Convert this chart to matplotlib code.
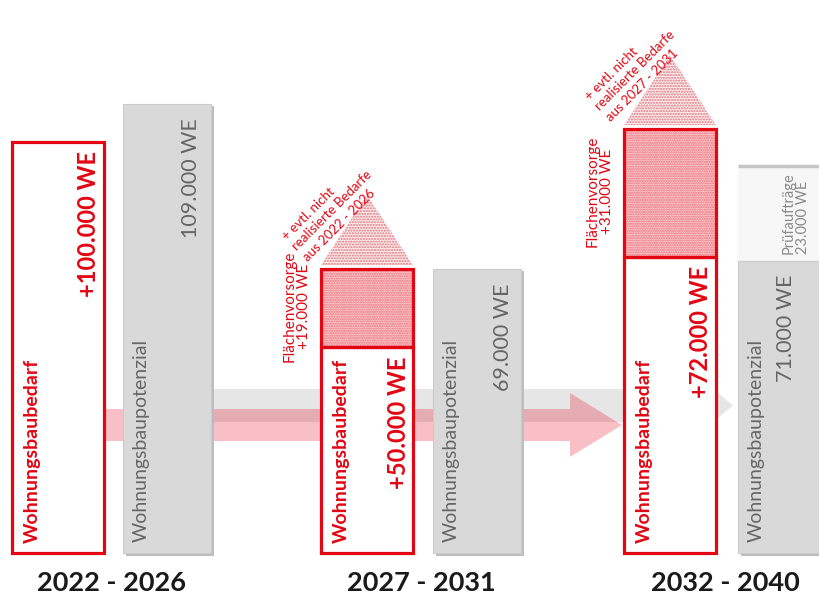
import matplotlib
matplotlib.use("Agg")
import matplotlib.pyplot as plt
from matplotlib.patches import Rectangle, Polygon, FancyArrow

# ---------------- data (Tsd. WE) ----------------
periods = ["2022 - 2026", "2027 - 2031", "2032 - 2040"]
bedarf = [100, 50, 72]          # Wohnungsbaubedarf
vorsorge = [0, 19, 31]          # Flächenvorsorge
potenzial = [109, 69, 71]       # Wohnungsbaupotenzial
pruef = [0, 0, 23]              # Prüfaufträge
bedarf_labels = ["+100.000 WE", "+50.000 WE", "+72.000 WE"]
vorsorge_labels = ["", "+19.000 WE", "+31.000 WE"]
potenzial_labels = ["109.000 WE", "69.000 WE", "71.000 WE"]
pruef_labels = ["", "", "23.000 WE"]
note_labels = ["",
               "+ evtl. nicht\nrealisierte Bedarfe\naus 2022 - 2026",
               "+ evtl. nicht\nrealisierte Bedarfe\naus 2027 - 2031"]

# ---------------- layout / style ----------------
plt.rcParams['font.family'] = ['Lato', 'DejaVu Sans']
W, H = 819, 604
PX = 4.115          # pixels per 1000 WE
BASE = 553          # baseline pixel row
RED = '#e30613'
GRAYTXT = '#666666'

red_left = [12, 321, 624]
red_w = 92
gray_left = [123, 433, 738]
gray_w = 88
val_off = [68, 70, 48]

fig = plt.figure(figsize=(W / 100, H / 100), dpi=100)
ax = fig.add_axes([0, 0, 1, 1])
ax.set_xlim(0, W)
ax.set_ylim(-(H - BASE) / PX, BASE / PX)
ax.axis('off')


def py(p):
    return p / PX


# background arrows
gx0 = gray_left[0] + gray_w / 2
gtip = red_left[2] + red_w + 17
ax.add_patch(FancyArrow(gx0, py(BASE - 405.5), gtip - gx0, 0, width=py(33),
                        head_width=py(50), head_length=30,
                        length_includes_head=True, color='#e6e6e6', lw=0, zorder=1))
px0 = red_left[0] + red_w / 2
ptip = red_left[2] - 2
ax.add_patch(FancyArrow(px0, py(BASE - 425), ptip - px0, 0, width=py(32),
                        head_width=py(64), head_length=52,
                        length_includes_head=True, color=(0.91, 0.0, 0.11, 0.25),
                        lw=0, zorder=2))

for i in range(3):
    rl, gl = red_left[i], gray_left[i]

    # gray potential bars with soft shadow
    ax.add_patch(Rectangle((gl + 3, -py(2.5)), gray_w, potenzial[i] + py(1),
                           fc='#bdbdbd', lw=0, zorder=3))
    ax.add_patch(Rectangle((gl, 0), gray_w, potenzial[i],
                           fc='#d9d9d9', ec='#cbcbcb', lw=0.8, zorder=4))
    ax.text(gl + 18, py(11), 'Wohnungsbaupotenzial', rotation=90,
            ha='center', va='bottom', color=GRAYTXT, fontsize=14, zorder=8)
    ax.text(gl + val_off[i], potenzial[i] - py(14), potenzial_labels[i],
            rotation=90, ha='center', va='top', color=GRAYTXT,
            fontsize=15.5, zorder=8)

    if pruef[i] > 0:
        top = potenzial[i] + pruef[i]
        ax.add_patch(Rectangle((gl, potenzial[i]), gray_w + 10, pruef[i],
                               fc='#f7f7f7', lw=0, zorder=3))
        ax.plot([gl, W], [top, top], color='#c4c4c4', lw=2.5, zorder=4,
                solid_capstyle='butt')
        ax.text(gl + 58, top - py(6), 'Prüfaufträge\n' + pruef_labels[i],
                rotation=90, ha='center', va='top', multialignment='left',
                color='#8a8a8a', fontsize=10.5, linespacing=1.05, zorder=8)

    # red demand bars
    ax.add_patch(Rectangle((rl, 0), red_w, bedarf[i], fc='white', ec=RED,
                           lw=2.3, zorder=6))
    ax.text(rl + 20, py(10), 'Wohnungsbaubedarf', rotation=90, ha='center',
            va='bottom', color=RED, fontsize=14, fontweight='bold', zorder=8)
    ax.text(rl + 77, bedarf[i] - py(9), bedarf_labels[i], rotation=90,
            ha='center', va='top', color=RED, fontsize=17, fontweight='bold',
            zorder=8)

    if vorsorge[i] > 0:
        ax.add_patch(Rectangle((rl, bedarf[i]), red_w, vorsorge[i],
                               fc='#f8cacd', ec='#ee6c77', hatch='.......',
                               lw=0, zorder=5))
        ax.add_patch(Rectangle((rl, bedarf[i]), red_w, vorsorge[i],
                               fill=False, ec=RED, lw=2.3, zorder=6))
        ax.text(rl - 10, bedarf[i] + vorsorge[i] / 2 + py(2),
                'Flächenvorsorge\n' + vorsorge_labels[i], rotation=90,
                ha='right', va='center', multialignment='center', color=RED,
                fontsize=11, linespacing=1.05, zorder=8)
        base = bedarf[i] + vorsorge[i] + py(4)
        tip = base + py(70)
        ax.add_patch(Polygon([(rl, base), (rl + red_w, base),
                              (rl + red_w / 2, tip)], closed=True,
                             fc='#fbeced', ec='#e2707b', hatch='......',
                             lw=0, zorder=5))
        ax.annotate(note_labels[i], xy=(rl, base), xytext=(-12 * 0.72, 2 * 0.72),
                    textcoords='offset points', rotation=45,
                    rotation_mode='anchor', ha='left', va='bottom',
                    color=RED, fontsize=9.5, linespacing=1.25, zorder=8)

    # period labels
    cx = (rl + gl + gray_w) / 2
    ax.text(cx, py(-30), periods[i], ha='center', va='center',
            fontsize=19.5, fontweight='bold', color='#1a1a1a', zorder=8)

fig.savefig('out.png', dpi=100)
